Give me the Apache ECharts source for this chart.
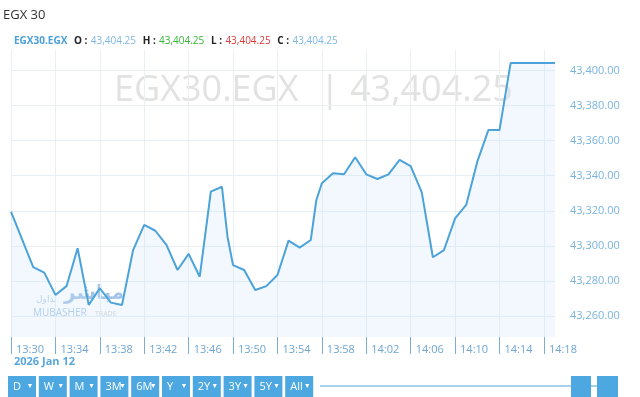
<!DOCTYPE html>
<html><head><meta charset="utf-8">
<script src="https://cdn.jsdelivr.net/npm/echarts@6/dist/echarts.min.js"></script>
<style>html,body{margin:0;padding:0;background:#fff}#c{width:640px;height:397px}</style>
</head><body><div id="c"></div>
<script>
// minutes after 13:30 and index values
const minutes = [0,2,3,4,5,6,7,8,9,10,11,12,13,14,15,16,17,18,19,19.5,20,21,22,23,24,25,26,27,27.5,28,29,30,31,32,33,34,35,36,36.5,37,38,39,40,41,42,43,44,45,49];
const values  = [43319.5,43287.8,43284.7,43272,43277,43298.6,43266.3,43275.8,43267.6,43266.3,43297.6,43311.9,43308.6,43300.5,43286.2,43295.4,43282.4,43330.9,43333.7,43305.2,43289,43286.2,43274.8,43277,43283.4,43303,43299,43303.3,43326,43335.7,43341.4,43340.8,43350.5,43340.8,43338.1,43340.8,43349,43345.5,43338,43330.5,43293.5,43297.6,43315.7,43323.3,43348,43366,43366,43404.25,43404.25];
const xTickMinutes = [0,4,8,12,16,20,24,28,32,36,40,44,48];
const xTickLabels = ["13:30","13:34","13:38","13:42","13:46","13:50","13:54","13:58","14:02","14:06","14:10","14:14","14:18"];
const yTickValues = [43260,43280,43300,43320,43340,43360,43380,43400];
const rangeButtons = ["D","W","M","3M","6M","Y","2Y","3Y","5Y","All"];
const symbolName = "EGX30.EGX";
const ohlc = {O:"43,404.25",H:"43,404.25",L:"43,404.25",C:"43,404.25"};
const lastValue = "43,404.25";

const chart = echarts.init(document.getElementById('c'), null, {renderer:'canvas'});
const font = "'Open Sans', 'Noto Sans', sans-serif";
const BLUE = '#4da8e2';

const graphics = [
  {type:'text', left:3, top:9, style:{text:'EGX 30', fill:'#333', font:'13px '+font}},
  {type:'text', left:14, top:35, style:{
    text:`{s|${symbolName}}  {k|O :} {v|${ohlc.O}}  {k|H :} {h|${ohlc.H}}  {k|L :} {l|${ohlc.L}}  {k|C :} {v|${ohlc.C}}`,
    rich:{
      s:{fill:'#4a9fdb', fontSize:10, fontWeight:'bold', fontFamily:font},
      k:{fill:'#222', fontSize:10, fontWeight:'bold', fontFamily:font},
      v:{fill:'#7db7e3', fontSize:10, fontFamily:font},
      h:{fill:'#35b535', fontSize:10, fontFamily:font},
      l:{fill:'#d93a3a', fontSize:10, fontFamily:font}
    }}},
  // watermark
  {type:'text', left:114, top:73, z:-10, silent:true, style:{text:symbolName, fill:'#e2e2e2', font:'36px '+font}},
  {type:'text', left:320, top:73, z:-10, silent:true, style:{text:'|', fill:'#e2e2e2', font:'36px '+font}},
  {type:'text', left:350, top:73, z:-10, silent:true, style:{text:lastValue, fill:'#e2e2e2', font:'36px '+font}},
  // logo
  {type:'text', left:64, top:284, z:-5, style:{text:'مباشر', fill:'rgba(90,150,215,0.55)', font:'bold 20px DejaVu Sans'}},
  {type:'text', left:36, top:295, z:-5, style:{text:'تداول', fill:'rgba(90,150,215,0.45)', font:'9px DejaVu Sans'}},
  {type:'text', left:33, top:308, z:-5, style:{text:'MUBASHER', fill:'rgba(110,165,225,0.6)', font:'10px '+font}},
  {type:'text', left:95, top:310, z:-5, style:{text:'TRADE', fill:'rgba(150,150,150,0.45)', font:'7px '+font}},
  // date
  {type:'text', left:14, top:356, style:{text:'2026 Jan 12', fill:'#5aa7de', font:'bold 11px '+font}},
  // slider
  {type:'line', shape:{x1:320,y1:386,x2:572,y2:386}, style:{stroke:'#a9d0ea', lineWidth:2}},
  {type:'rect', shape:{x:571,y:376,width:20,height:22}, style:{fill:BLUE}},
  {type:'line', shape:{x1:591,y1:386,x2:597,y2:386}, style:{stroke:'#a9d0ea', lineWidth:2}},
  {type:'rect', shape:{x:597,y:376,width:21,height:22}, style:{fill:BLUE}}
];
rangeButtons.forEach((b,i)=>{
  const x = 8 + i*30.8;
  graphics.push({type:'rect', shape:{x:x,y:376,width:28,height:22}, style:{fill:BLUE}});
  graphics.push({type:'text', left:x+5, top:381, style:{text:b, fill:'#fff', font:'11px '+font}});
  graphics.push({type:'text', left:x+20, top:382, style:{text:'▾', fill:'#fff', font:'8px DejaVu Sans'}});
});

chart.setOption({
  animation:false,
  grid:{left:11, right:85, top:50, bottom:60},
  xAxis:{
    type:'value', min:0, max:49, interval:4,
    axisLine:{show:false},
    axisTick:{show:true, length:17, lineStyle:{color:'#7aaed6'}, customValues:xTickMinutes},
    axisLabel:{customValues:xTickMinutes, color:'#6fa5d3', fontSize:11, fontFamily:font, align:'left', margin:7, padding:[0,0,0,5],
      formatter:v=>{const i=xTickMinutes.indexOf(v); return i>=0?xTickLabels[i]:'';}},
    splitLine:{show:true, lineStyle:{color:'#e8eff5'}}
  },
  yAxis:{
    type:'value', position:'right', min:43248, max:43411.7,
    axisLine:{show:true, lineStyle:{color:'#e8eff5'}},
    axisTick:{show:false, customValues:yTickValues},
    axisLabel:{customValues:yTickValues, color:'#7ab4de', fontSize:11, fontFamily:font, margin:15,
      formatter:v=>v.toLocaleString('en-US',{minimumFractionDigits:2,maximumFractionDigits:2})},
    splitLine:{show:true, lineStyle:{color:'#e8eff5'}}
  },
  series:[{
    type:'line', data:minutes.map((m,i)=>[m,values[i]]), symbol:'none',
    lineStyle:{color:'#4ba3d9', width:2},
    areaStyle:{color:'rgba(200,225,245,0.35)', origin:'start'},
    z:5
  }],
  graphic:graphics
});
</script></body></html>
